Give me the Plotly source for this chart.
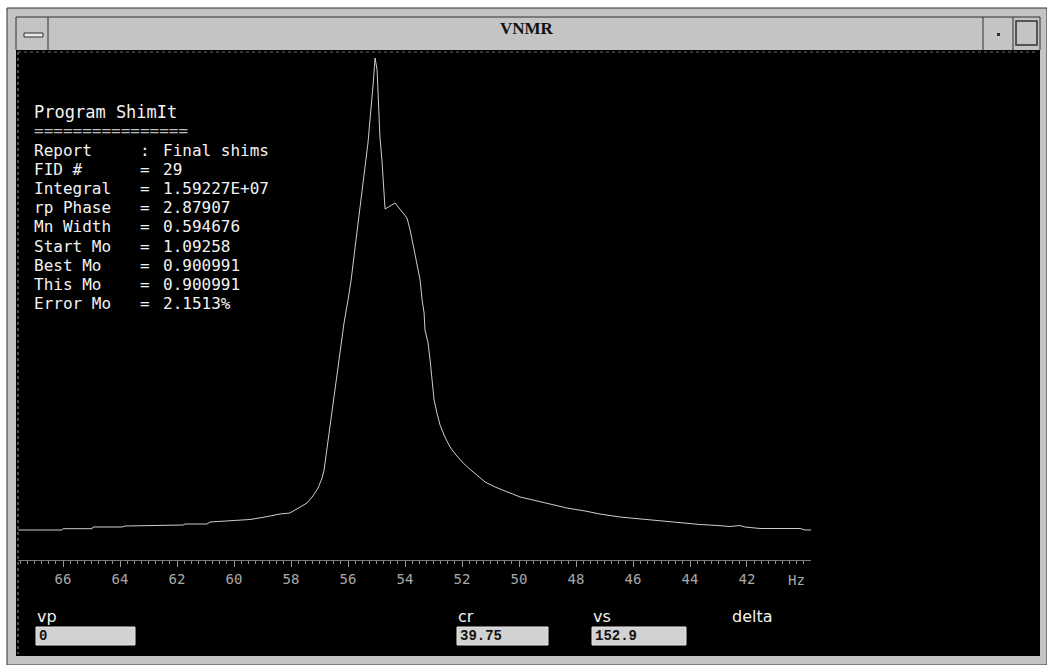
import plotly.graph_objects as go

# ---------------- data ----------------
HZ = [67.58, 66.04, 66.0, 64.98, 64.95, 63.93, 63.82, 61.79, 61.72, 60.95, 60.84,
      60.14, 59.44, 58.91, 58.39, 58.04, 57.93, 57.68, 57.44, 57.23, 57.05, 56.91,
      56.84, 56.77, 56.70, 56.63, 56.56, 56.49, 56.42, 56.21, 56.14, 56.0, 55.89,
      55.75, 55.65, 55.54, 55.47, 55.37, 55.30, 55.23, 55.16, 55.12, 55.05, 54.98,
      54.95, 54.91, 54.88, 54.81, 54.77, 54.74, 54.70, 54.35, 54.11, 53.93, 53.82,
      53.75, 53.65, 53.58, 53.47, 53.40, 53.33, 53.30, 53.19, 53.12, 53.05, 52.98,
      52.88, 52.77, 52.60, 52.42, 52.21, 51.96, 51.65, 51.19, 50.84, 50.42, 49.96,
      49.51, 48.91, 48.32, 47.68, 47.16, 46.46, 45.75, 44.88, 44.18, 43.65, 43.02,
      42.60, 42.25, 42.07, 41.54, 40.14, 39.96, 39.75]
INTENSITY = [2.0, 2.0, 2.26, 2.26, 2.6, 2.6, 2.8, 3.0, 3.2, 3.2, 3.6,
             3.86, 4.1, 4.6, 5.2, 5.4, 5.8, 6.6, 7.4, 8.8, 10.4, 12.4,
             14.0, 17.0, 19.4, 22.0, 25.4, 28.0, 32.0, 40.0, 43.4, 48.0, 52.0,
             58.6, 63.4, 68.0, 71.4, 76.0, 79.4, 84.0, 88.0, 91.0, 96.4, 94.0,
             90.0, 85.0, 80.6, 76.0, 72.0, 69.0, 66.2, 67.4, 65.6, 64.4, 62.0,
             60.0, 57.4, 54.8, 52.0, 48.0, 45.4, 42.0, 39.4, 36.0, 32.0, 28.0,
             25.4, 23.0, 20.6, 18.6, 17.0, 15.4, 13.8, 11.6, 10.6, 9.6, 8.6,
             8.0, 7.2, 6.4, 5.8, 5.2, 4.6, 4.2, 3.7, 3.4, 3.1, 2.9,
             2.7, 2.9, 2.6, 2.3, 2.3, 2.0, 2.0]
TICK_HZ = [66, 64, 62, 60, 58, 56, 54, 52, 50, 48, 46, 44, 42]
TICK_TEXT = [str(t) for t in TICK_HZ]
UNIT_LABEL = "Hz"

TITLE = "VNMR"
REPORT_TITLE = "Program ShimIt"
REPORT_RULE = "================"
REPORT_LABELS = ["Report", "FID #", "Integral", "rp Phase", "Mn Width",
                 "Start Mo", "Best Mo", "This Mo", "Error Mo"]
REPORT_SEPS = [":", "=", "=", "=", "=", "=", "=", "=", "="]
REPORT_VALUES = ["Final shims", "29", "1.59227E+07", "2.87907", "0.594676",
                 "1.09258", "0.900991", "0.900991", "2.1513%"]
PARAM_NAMES = ["vp", "cr", "vs", "delta"]
PARAM_VALUES = ["0", "39.75", "152.9", None]

# ---------------- layout helpers (pixel -> paper) ----------------
W, H = 1047, 665
def px(x):
    return x / W
def py(y):
    return (H - y) / H

FRAME = "#c4c4c4"
DARK = "#303030"

fig = go.Figure()
fig.add_trace(go.Scatter(x=HZ, y=INTENSITY, mode="lines",
                         line=dict(color="#cdcdcd", width=1),
                         hoverinfo="skip", showlegend=False))

shapes = []
def rect(x0, y0, x1, y1, fill, line=None, lw=0):
    shapes.append(dict(type="rect", xref="paper", yref="paper",
                       x0=px(x0), x1=px(x1), y0=py(y1), y1=py(y0),
                       fillcolor=fill, line=dict(color=line or fill, width=lw),
                       layer="below"))
def seg(x0, y0, x1, y1, color, lw=1, dash=None):
    shapes.append(dict(type="line", xref="paper", yref="paper",
                       x0=px(x0), x1=px(x1), y0=py(y0), y1=py(y1),
                       line=dict(color=color, width=lw, dash=dash or "solid"),
                       layer="above"))

# window frame
rect(7, 8, 1047, 665, FRAME, DARK, 1)
rect(16, 50, 1040, 656, "#000000")
# title bar outlines and buttons
seg(16, 17, 1040, 17, DARK)
seg(16, 17, 16, 50, DARK)
seg(1040, 17, 1040, 50, DARK)
seg(48, 17, 48, 50, DARK)
seg(983, 17, 983, 50, DARK)
seg(1013, 17, 1013, 50, DARK)
rect(24, 33, 43, 37, "#e8e8e8", DARK, 1)
rect(1016, 21, 1037, 45, FRAME, DARK, 1.5)
rect(997, 33, 1000, 36, DARK)
# dotted left border of the display
seg(18, 52, 18, 654, "#9a9a9a", 1, "dot")
seg(18, 52, 1038, 52, "#6a6a6a", 1, "dot")

annotations = []
def text(x, y, s, size, color="#f2f2f2", family="DejaVu Sans Mono",
         xanchor="left", bold=False):
    annotations.append(dict(x=px(x), y=py(y), xref="paper", yref="paper",
                            text=f"<b>{s}</b>" if bold else s,
                            showarrow=False, xanchor=xanchor, yanchor="middle",
                            borderpad=0,
                            font=dict(size=size, color=color, family=family)))

text(527, 28, TITLE, 17, "#111111", "Liberation Serif", "center", True)

# report block (tightly packed terminal lines)
FS = 16
text(33, 112, REPORT_TITLE, FS + 1)
text(33, 131, REPORT_RULE, FS, "#bdbdbd")
for i, (lab, sep, val) in enumerate(zip(REPORT_LABELS, REPORT_SEPS, REPORT_VALUES)):
    y = 150 + i * 19.2
    text(33, y, lab, FS)
    text(139, y, sep, FS)
    text(162, y, val, FS)

# unit label on the scale
annotations.append(dict(x=40.28, y=py(580), xref="x", yref="paper", text=UNIT_LABEL,
                        showarrow=False, xanchor="center", yanchor="middle",
                        font=dict(size=14, color="#a8a8a8", family="DejaVu Sans Mono")))

# parameter fields
name_x = [36, 457, 592, 731]
box_w = [99, 91, 94, 0]
for nm, val, x, bw in zip(PARAM_NAMES, PARAM_VALUES, name_x, box_w):
    text(x, 616, nm, 16, "#f2f2f2", "DejaVu Sans")
    if val is not None:
        rect(x, 627, x + bw, 645, "#d2d2d2", "#e6e6e6", 1)
        text(x + 2, 636, val, 14, "#111111", "Liberation Mono", bold=True)

fig.update_layout(
    width=W, height=H,
    margin=dict(l=0, r=0, t=0, b=0),
    paper_bgcolor="#ffffff",
    plot_bgcolor="rgba(0,0,0,0)",
    shapes=shapes, annotations=annotations,
    xaxis=dict(domain=[px(18), px(811)], range=[67.58, 39.754],
               anchor="free", position=py(560), side="bottom",
               showgrid=False, zeroline=False,
               showline=True, linecolor="#7a7a7a", linewidth=1,
               tickmode="array", tickvals=TICK_HZ, ticktext=TICK_TEXT,
               ticks="outside", ticklen=6, tickcolor="#9a9a9a", tickwidth=1,
               minor=dict(dtick=0.25, tick0=0, ticks="outside", ticklen=3,
                          tickcolor="#8c8c8c", showgrid=False),
               tickfont=dict(size=14, color="#a8a8a8", family="DejaVu Sans Mono")),
    yaxis=dict(domain=[0, 1], range=[-25, 108], visible=False, fixedrange=True),
    showlegend=False,
)

fig.write_html("out.html")
